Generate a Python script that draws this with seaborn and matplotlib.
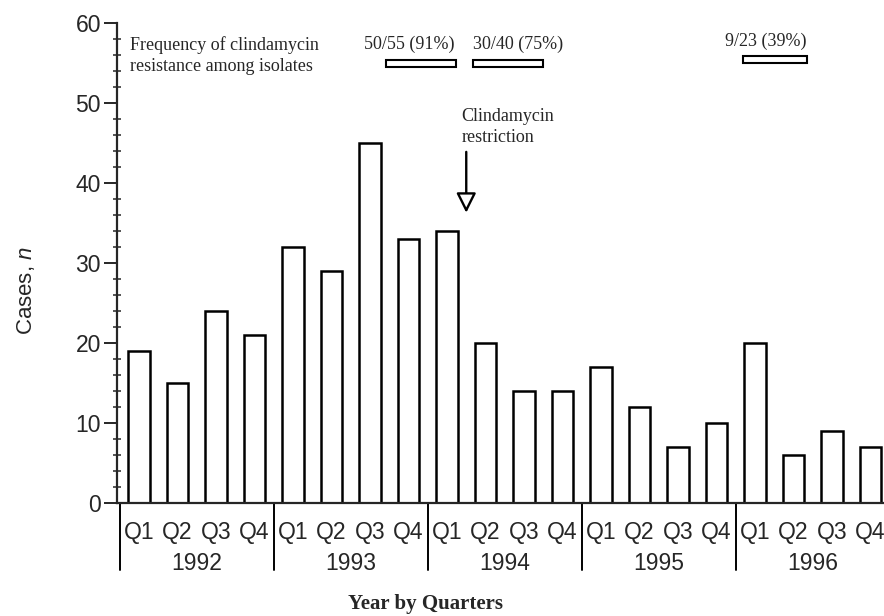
import matplotlib
matplotlib.use("Agg")
import matplotlib.pyplot as plt
import matplotlib.transforms as mtransforms
from matplotlib.ticker import MultipleLocator
import pandas as pd
import seaborn as sns

# --- data ---
years = ["1992", "1993", "1994", "1995", "1996"]
quarters = ["Q1", "Q2", "Q3", "Q4"]
cases = [19, 15, 24, 21,
         32, 29, 45, 33,
         34, 20, 14, 14,
         17, 12, 7, 10,
         20, 6, 9, 7]

# resistance frequency boxes (start / end in quarter index units)
resist_labels = ["50/55 (91%)", "30/40 (75%)", "9/23 (39%)"]
resist_start = [6.41, 8.67, 15.68]
resist_end = [8.23, 10.5, 17.34]
resist_level = [54.95, 54.95, 55.4]
resist_text_x = [7.01, 9.85, 16.27]

restriction_x = 8.5   # between 1994 Q1 and Q2

periods = [f"{y} {q}" for y in years for q in quarters]
df = pd.DataFrame({"period": periods, "cases": cases})

# --- style ---
sns.set_style("ticks")
plt.rcParams["font.family"] = ["Liberation Sans", "DejaVu Sans"]
plt.rcParams["mathtext.fontset"] = "custom"
plt.rcParams["mathtext.it"] = "Liberation Sans:italic"
serif = ["Liberation Serif", "DejaVu Serif"]

fig = plt.figure(figsize=(8.84, 6.16), dpi=100)
ax = fig.add_axes([117 / 884, (616 - 502.7) / 616, 772 / 884, 480 / 616])

sns.barplot(data=df, x="period", y="cases", order=periods, color="white",
            edgecolor="black", linewidth=1.8, width=0.57, saturation=1, ax=ax)

ax.set_xlim(-0.571, 19.48)
ax.set_ylim(0, 60)
sns.despine(ax=ax)
for s in ["left", "bottom"]:
    ax.spines[s].set_linewidth(1.6)

# y axis
ax.yaxis.set_major_locator(MultipleLocator(10))
ax.yaxis.set_minor_locator(MultipleLocator(2))
ax.tick_params(axis="y", which="major", length=9.5, width=1.4, pad=2,
               labelsize=16.5, direction="out")
ax.tick_params(axis="y", which="minor", length=6, width=1.1, direction="inout")
ax.set_ylabel("Cases, $\\mathit{n}$", fontsize=16)
ax.yaxis.set_label_coords(-0.104, 0.441)

# x axis: quarter labels, then year labels and separators below
ax.set_xticks(range(len(periods)))
ax.set_xticklabels([p.split()[1] for p in periods], fontsize=16.5)
ax.tick_params(axis="x", length=0, pad=13)
ax.set_xlabel("Year by Quarters", fontsize=15, fontweight="bold", family=serif)
ax.xaxis.set_label_coords(0.40, -0.19)

trans = mtransforms.blended_transform_factory(ax.transData, ax.transAxes)
for i, yr in enumerate(years):
    ax.text(i * 4 + 1.5, -0.127, yr, transform=trans, ha="center", va="center",
            fontsize=16.5)
    ax.plot([i * 4 - 0.5, i * 4 - 0.5], [0, -0.141], transform=trans,
            color="black", lw=1.4, clip_on=False)

# resistance annotation
ax.text(-0.23, 55.9, "Frequency of clindamycin\nresistance among isolates",
        ha="left", va="center", fontsize=13, family=serif, linespacing=1.3)
for lab, x0, x1, lev, tx in zip(resist_labels, resist_start, resist_end,
                                resist_level, resist_text_x):
    ax.barh(lev, x1 - x0, left=x0, height=0.85, color="white",
            edgecolor="black", linewidth=1.5)
    ax.text(tx, lev + 2.3, lab, ha="center", va="center", fontsize=13,
            family=serif)

# restriction arrow
ax.annotate("", xy=(restriction_x, 35.9), xytext=(restriction_x, 44.2),
            arrowprops=dict(arrowstyle="-|>,head_length=1.2,head_width=0.6",
                            fc="white", ec="black", lw=1.7))
ax.text(8.38, 46.96, "Clindamycin\nrestriction", ha="left", va="center",
        fontsize=13, family=serif, linespacing=1.3)

fig.savefig("out.png", dpi=100)
